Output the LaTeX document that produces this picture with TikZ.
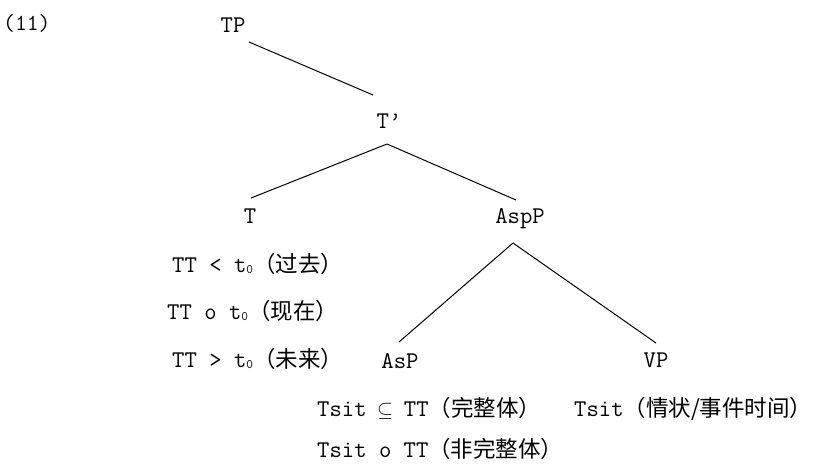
\documentclass[tikz,border=0pt]{standalone}
\usepackage{fontspec}
\newfontfamily\cjkfont{Noto Sans CJK SC}
\newcommand\zh[1]{{\cjkfont\fontsize{22.5}{22.5}\selectfont #1}}
\newcommand\mysub[1]{\raisebox{-1.5pt}{\fontsize{13}{13}\selectfont #1}}
\newcommand\subsetsym{\makebox[0.525em]{\fontsize{21}{21}\selectfont$\subseteq$}}
\tikzset{
  lab/.style={font=\ttfamily\fontsize{24}{24}\selectfont, inner sep=0pt, anchor=base},
  rowtext/.style={font=\ttfamily\fontsize{24}{24}\selectfont, inner sep=0pt, anchor=base west},
  branch/.style={line width=1pt}
}
\begin{document}
\begin{tikzpicture}[x=1pt,y=-1pt]
\useasboundingbox[fill=white] (0,0) rectangle (813,464);
\node[rowtext, font=\ttfamily\fontsize{23}{23}\selectfont] (num) at (3,30) {(11)};
\node[lab] (tp) at (233,32) {TP};
\node[lab] (tbar) at (389,128) {T’};
\node[lab] (t) at (250,223) {T};
\node[lab] (aspp) at (520,223) {AspP};
\node[lab] (asp) at (400,368) {AsP};
\node[lab] (vp) at (656,367) {VP};
\node[rowtext] (r1) at (172,272) {TT < t\mysub{0}\zh{（过去）}};
\node[rowtext] (r2) at (167,319) {TT o t\mysub{0}\zh{（现在）}};
\node[rowtext] (r3) at (172,367) {TT > t\mysub{0}\zh{（未来）}};
\node[rowtext] (r4) at (317,416) {Tsit \subsetsym{} TT\zh{（完整体）}};
\node[rowtext] (r5) at (317,457) {Tsit o TT\zh{（非完整体）}};
\node[rowtext] (r6) at (574,416) {Tsit\zh{（情状/事件时间）}};
\draw[branch] ([shift={(16,10)}]tp.base) -- ([shift={(-16,-33)}]tbar.base);
\draw[branch] ([shift={(-2,16)}]tbar.base) -- ([shift={(1,-25)}]t.base);
\draw[branch] ([shift={(-2,16)}]tbar.base) -- ([shift={(-4,-23)}]aspp.base);
\draw[branch] ([shift={(-7,20)}]aspp.base) -- ([shift={(-1,-26)}]asp.base);
\draw[branch] ([shift={(-7,20)}]aspp.base) -- ([shift={(0,-24)}]vp.base);
\end{tikzpicture}
\end{document}
